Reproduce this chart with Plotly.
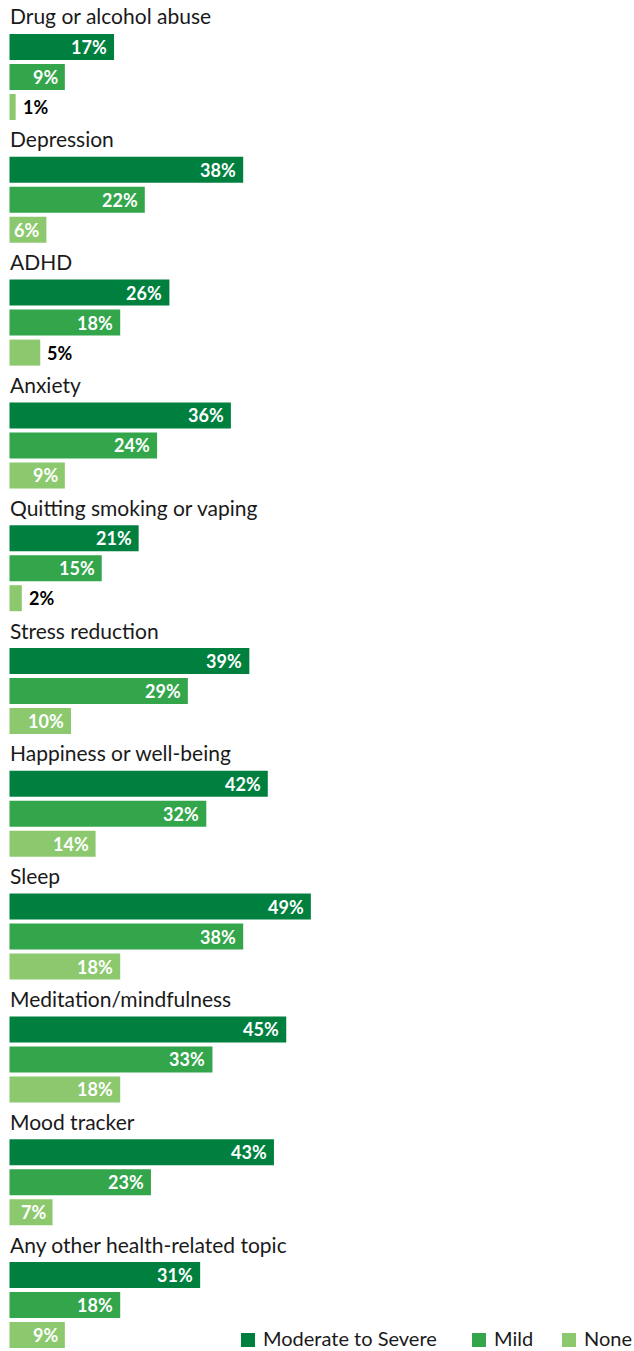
import plotly.graph_objects as go

# Survey topics and share of respondents by symptom severity (%)
categories = [
    "Drug or alcohol abuse",
    "Depression",
    "ADHD",
    "Anxiety",
    "Quitting smoking or vaping",
    "Stress reduction",
    "Happiness or well-being",
    "Sleep",
    "Meditation/mindfulness",
    "Mood tracker",
    "Any other health-related topic",
]
moderate_to_severe = [17, 38, 26, 36, 21, 39, 42, 49, 45, 43, 31]
mild = [9, 22, 18, 24, 15, 29, 32, 38, 33, 23, 18]
none = [1, 6, 5, 9, 2, 10, 14, 18, 18, 7, 9]

series_names = ["Moderate to Severe", "Mild", "None"]
series_values = [moderate_to_severe, mild, none]
series_colors = ["#00803f", "#33a54b", "#8cc96e"]

# Layout geometry (pixels)
W, H = 634, 1351
X0 = 9.5                 # left edge of bars
PX_PER_PCT = 6.15        # horizontal scale
GROUP_TOP = 47           # centre of first bar in first group
GROUP_STEP = 122.8       # distance between groups
BAR_STEP = 30            # distance between bars in a group
BAR_H = 26
LABEL_PAD = 5
MIN_INSIDE_PX = 34       # narrower bars get their label outside

FONT = "Lato, 'Open Sans', sans-serif"

x_range = [-X0 / PX_PER_PCT, (W - X0) / PX_PER_PCT]

fig = go.Figure()
annotations = []

for s, (name, vals, color) in enumerate(zip(series_names, series_values, series_colors)):
    ys = [GROUP_TOP + g * GROUP_STEP + s * BAR_STEP for g in range(len(categories))]
    fig.add_trace(go.Bar(
        x=vals, y=ys, orientation="h", name=name,
        marker=dict(color=color, line=dict(width=0)),
        width=BAR_H, hoverinfo="skip", showlegend=False,
    ))
    for v, y in zip(vals, ys):
        inside = v * PX_PER_PCT >= MIN_INSIDE_PX
        annotations.append(dict(
            x=v, y=y, xref="x", yref="y",
            text=f"<b>{v}%</b>", showarrow=False,
            xanchor="right" if inside else "left",
            xshift=-LABEL_PAD if inside else LABEL_PAD,
            yanchor="middle",
            font=dict(family=FONT, size=18, color="#ffffff" if inside else "#000000"),
        ))

# Topic headings above each group
for g, cat in enumerate(categories):
    annotations.append(dict(
        x=7.5 / W, y=1 - (GROUP_TOP + g * GROUP_STEP - BAR_STEP - 1) / H,
        xref="paper", yref="paper", text=cat, showarrow=False,
        xanchor="left", yanchor="middle",
        font=dict(family=FONT, size=21, color="#1a1a1a"),
    ))

# Legend row in the bottom-right corner
legend_y = 1340
legend_items = [(241, 261), (472, 492), (562, 582)]
shapes = []
for (sq_x, tx_x), name, color in zip(legend_items, series_names, series_colors):
    shapes.append(dict(
        type="rect", xref="paper", yref="paper",
        x0=sq_x / W, x1=(sq_x + 14) / W,
        y0=1 - (legend_y + 7) / H, y1=1 - (legend_y - 7) / H,
        fillcolor=color, line=dict(width=0),
    ))
    annotations.append(dict(
        x=tx_x / W, y=1 - (legend_y - 2) / H, xref="paper", yref="paper",
        text=name, showarrow=False, xanchor="left", yanchor="middle",
        font=dict(family=FONT, size=20, color="#1a1a1a"),
    ))

fig.update_layout(
    width=W, height=H,
    margin=dict(l=0, r=0, t=0, b=0),
    paper_bgcolor="#ffffff", plot_bgcolor="#ffffff",
    barmode="overlay",
    xaxis=dict(range=x_range, visible=False, fixedrange=True),
    yaxis=dict(range=[H, 0], visible=False, fixedrange=True),
    annotations=annotations,
    shapes=shapes,
    font=dict(family=FONT),
)

fig.write_html("out.html")
